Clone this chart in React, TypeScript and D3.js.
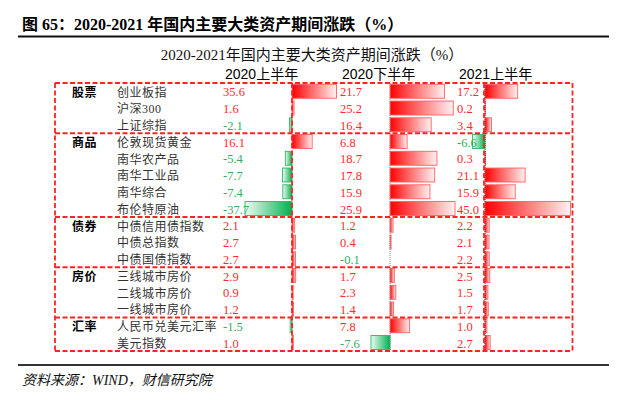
import React from "react";
import * as d3 from "d3";

const groupNames = ["股票", "商品", "债券", "房价", "汇率"];
const groupSizes = [3, 5, 3, 3, 2];
const assets = [
  "创业板指", "沪深300", "上证综指",
  "伦敦现货黄金", "南华农产品", "南华工业品", "南华综合", "布伦特原油",
  "中债信用债指数", "中债总指数", "中债国债指数",
  "三线城市房价", "二线城市房价", "一线城市房价",
  "人民币兑美元汇率", "美元指数",
];
const periods = ["2020上半年", "2020下半年", "2021上半年"];
const h1_2020 = [35.6, 1.6, -2.1, 16.1, -5.4, -7.7, -7.4, -37.7, 2.1, 2.7, 2.7, 2.9, 0.9, 1.2, -1.5, 1.0];
const h2_2020 = [21.7, 25.2, 16.4, 6.8, 18.7, 17.8, 15.9, 25.9, 1.2, 0.4, -0.1, 1.7, 2.3, 1.4, 7.8, -7.6];
const h1_2021 = [17.2, 0.2, 3.4, -6.6, 0.3, 21.1, 15.9, 45.0, 2.2, 2.1, 2.2, 2.5, 1.5, 1.7, 1.0, 2.7];

const W = 621;
const H = 405;
const SERIF = "'Liberation Serif','Noto Sans CJK SC',serif";
const SANS = "'Liberation Sans','Noto Sans CJK SC',sans-serif";
const RED_TXT = "#FF2B2B";
const GREEN_TXT = "#2EAF62";
const DASH = "#FF2222";

const tableTop = 83;
const rowH = 16.75;
const tableLeft = 55;
const tableRight = 572.5;

const series = [h1_2020, h2_2020, h1_2021];
// layout for each column: text x, bar pixel range
const colText = [223, 340, 457];
const colHeadX = [225, 342, 459];
const colRange: [number, number][] = [
  [245, 336.5],
  [371, 455],
  [472.5, 570.5],
];

export default function App() {
  const y = d3
    .scaleLinear()
    .domain([0, assets.length])
    .range([tableTop, tableTop + rowH * assets.length]);

  const xScales = series.map((vals, i) => {
    const mn = Math.min(0, d3.min(vals) as number);
    const mx = Math.max(0, d3.max(vals) as number);
    return d3.scaleLinear().domain([mn, mx]).range(colRange[i]);
  });

  const groupStarts: number[] = [];
  let acc = 0;
  groupSizes.forEach((s) => {
    groupStarts.push(acc);
    acc += s;
  });
  const hLines = [...groupStarts, assets.length];
  const vLines = [tableLeft, 292, 484, tableRight];

  return (
    <div>
      <style>{"body{margin:0;background:#fff}"}</style>
      <svg width={W} height={H} viewBox={`0 0 ${W} ${H}`} style={{ display: "block" }}>
        <defs>
          <linearGradient id="gradRed" x1="0" x2="1" y1="0" y2="0">
            <stop offset="0" stopColor="#FF0000" />
            <stop offset="1" stopColor="#FFF2F2" />
          </linearGradient>
          <linearGradient id="gradGreen" x1="1" x2="0" y1="0" y2="0">
            <stop offset="0" stopColor="#00B050" />
            <stop offset="1" stopColor="#F0FBF4" />
          </linearGradient>
        </defs>
        <rect x={0} y={0} width={W} height={H} fill="#fff" />

        {/* Top title */}
        <text x={22} y={30} fontFamily={SERIF} fontWeight="bold" fontSize={16} fill="#000">
          图 65：2020-2021 年国内主要大类资产期间涨跌（%）
        </text>
        <line x1={18} x2={609} y1={36.5} y2={36.5} stroke="#111" strokeWidth={2} />

        {/* Inner title */}
        <text x={312} y={60} textAnchor="middle" fontFamily={SERIF} fontSize={15} fill="#111">
          2020-2021年国内主要大类资产期间涨跌（%）
        </text>

        {/* Column headers */}
        {periods.map((p, i) => (
          <text key={p} x={colHeadX[i]} y={79} fontFamily={SANS} fontSize={14} fill="#000">
            {p}
          </text>
        ))}

        {/* Bars */}
        {series.map((vals, ci) =>
          vals.map((v, ri) => {
            const x = xScales[ci];
            const x0 = x(0);
            const x1 = x(v);
            const left = Math.min(x0, x1);
            const w = Math.abs(x1 - x0);
            if (w < 0.3) return null;
            const pos = v >= 0;
            return (
              <rect
                key={`b${ci}-${ri}`}
                x={left}
                y={y(ri) + 1.3}
                width={w}
                height={rowH - 2.8}
                fill={pos ? "url(#gradRed)" : "url(#gradGreen)"}
                stroke={pos ? "#FF6060" : "#2BB865"}
                strokeWidth={0.9}
              />
            );
          })
        )}

        {/* Axis dotted lines for columns D and E */}
        {[1, 2].map((ci) => (
          <line
            key={`ax${ci}`}
            x1={xScales[ci](0)}
            x2={xScales[ci](0)}
            y1={y(0)}
            y2={y(assets.length)}
            stroke={ci === 1 ? "#888" : "#333"}
            strokeWidth={1}
            strokeDasharray="1,1"
          />
        ))}

        {/* Dashed group grid */}
        {hLines.map((r, i) => (
          <line
            key={`h${i}`}
            x1={tableLeft}
            x2={tableRight}
            y1={y(r)}
            y2={y(r)}
            stroke={DASH}
            strokeWidth={1.8}
            strokeDasharray="5,2.5"
          />
        ))}
        {vLines.map((vx, i) => (
          <line
            key={`v${i}`}
            x1={vx}
            x2={vx}
            y1={y(0)}
            y2={y(assets.length)}
            stroke={DASH}
            strokeWidth={1.8}
            strokeDasharray="5,2.5"
          />
        ))}

        {/* Group labels */}
        {groupNames.map((g, i) => (
          <text
            key={g}
            x={72}
            y={y(groupStarts[i]) + 13.5}
            fontFamily={SERIF}
            fontWeight="bold"
            fontSize={12}
            letterSpacing={0.5}
            fill="#000"
          >
            {g}
          </text>
        ))}

        {/* Asset names */}
        {assets.map((a, i) => (
          <text
            key={a}
            x={117}
            y={y(i) + 13.5}
            fontFamily={SERIF}
            fontSize={12}
            letterSpacing={0.5}
            fill="#333"
          >
            {a}
          </text>
        ))}

        {/* Values */}
        {series.map((vals, ci) =>
          vals.map((v, ri) => (
            <text
              key={`t${ci}-${ri}`}
              x={colText[ci]}
              y={y(ri) + 13.3}
              fontFamily={SERIF}
              fontSize={12.5}
              fill={v < 0 ? GREEN_TXT : RED_TXT}
            >
              {v.toFixed(1)}
            </text>
          ))
        )}

        {/* Footer */}
        <line x1={18} x2={609} y1={365} y2={365} stroke="#333" strokeWidth={2.2} />
        <text x={22} y={385} fontFamily={SERIF} fontStyle="italic" fontSize={14} fill="#111">
          资料来源：WIND，财信研究院
        </text>
      </svg>
    </div>
  );
}
